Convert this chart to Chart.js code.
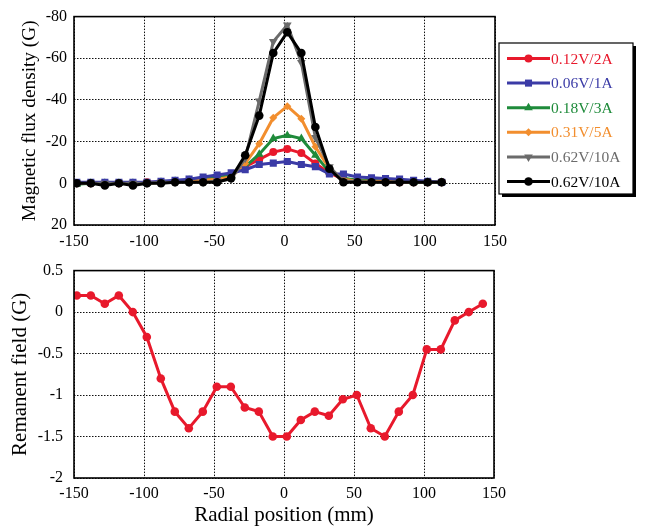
<!DOCTYPE html>
<html>
<head>
<meta charset="utf-8">
<script src="https://cdn.jsdelivr.net/npm/chart.js@4.4.0/dist/chart.umd.min.js"></script>
<style>
body { margin: 0; background: #fff; }
#wrap { position: relative; width: 645px; height: 529px; }
canvas { position: absolute; left: 0; }
</style>
</head>
<body>
<div id="wrap">
  <canvas id="fluxChart" width="645" height="250" style="top:0"></canvas>
  <canvas id="remChart" width="645" height="279" style="top:250px"></canvas>
</div>
<script>
// radial positions (mm)
const fluxX = [-148, -138, -128, -118, -108, -98, -88, -78, -68, -58, -48, -38, -28, -18, -8, 2, 12, 22, 32, 42, 52, 62, 72, 82, 92, 102, 112];
const remX = [-148, -138, -128, -118, -108, -98, -88, -78, -68, -58, -48, -38, -28, -18, -8, 2, 12, 22, 32, 42, 52, 62, 72, 82, 92, 102, 112, 122, 132, 142];

// magnetic flux density (G)
const flux012 = [0, 0, 0, 0, 0, -0.5, -0.5, -1, -1.5, -2, -2.5, -4, -8, -11.5, -15, -16.5, -14.5, -9.5, -5, -2, -1.5, -1, -1, -0.5, -0.5, -0.5, -0.5];
const flux006 = [-0.5, -0.5, -0.5, -0.5, -0.5, -0.5, -1, -1.5, -2, -3, -4, -5, -6.5, -9, -9.7, -10.5, -9, -8, -4.5, -4.5, -3, -2.7, -2.3, -2, -1.5, -1, -0.5];
const flux018 = [0.5, 0, 0, 0, 0, 0, -0.5, -1, -1.5, -2, -2.5, -4, -8, -14, -21.5, -23, -21.5, -13.5, -5.5, -2.5, -1.5, -1.5, -1, -1, -0.5, -0.5, -0.5];
const flux031 = [0, 0, 0, 0, 0, 0, -0.5, -1, -1, -1.5, -2, -3, -9.5, -19, -31.5, -37, -31, -17.5, -7, -2, -1, -1, -1, -0.5, -0.5, -0.5, -0.5];
const flux062a = [0, 0, 0, 0, 0, 0, -0.5, -0.5, -0.5, -0.5, -1, -2, -12, -39.5, -68, -76, -58, -22, -8, -1, -1, -0.5, -0.5, -0.5, -0.5, -0.5, -0.5];
const flux062b = [0, 0, 1, 0, 1, 0, 0, -0.5, -0.5, -0.5, -0.5, -2.5, -13.5, -32.5, -62.5, -72.5, -62.5, -27, -7, -0.5, -0.5, -0.5, -0.5, -0.5, -0.5, -0.5, -0.5];

// remanent field (G)
const remField = [0.2, 0.2, 0.1, 0.2, 0, -0.3, -0.8, -1.2, -1.4, -1.2, -0.9, -0.9, -1.15, -1.2, -1.5, -1.5, -1.3, -1.2, -1.25, -1.05, -1, -1.4, -1.5, -1.2, -1, -0.45, -0.45, -0.1, 0, 0.1];

const xTicks = [-150, -100, -50, 0, 50, 100, 150];
const fluxTicks = [-80, -60, -40, -20, 0, 20];
const remTicks = [0.5, 0, -0.5, -1, -1.5, -2];

const serif = 'Liberation Serif';

function toPoints(xs, ys) {
    return xs.map((x, i) => ({ x: x, y: ys[i] }));
}

function series(label, ys, color, style, radius, order, rotation) {
    return {
        label: label,
        data: toPoints(fluxX, ys),
        borderColor: color,
        backgroundColor: color,
        borderWidth: 3,
        pointStyle: style,
        pointRadius: radius,
        pointRotation: rotation || 0,
        pointBorderWidth: 0,
        order: order
    };
}

// box around the plot area
const framePlugin = {
    id: 'frame',
    afterDraw(chart) {
        const a = chart.chartArea;
        const ctx = chart.ctx;
        ctx.save();
        ctx.strokeStyle = '#000';
        ctx.lineWidth = 1.6;
        ctx.strokeRect(a.left, a.top, a.right - a.left, a.bottom - a.top);
        ctx.restore();
    }
};

// boxed legend with drop shadow on the right
const legendBoxPlugin = {
    id: 'legendBox',
    afterDraw(chart) {
        const ctx = chart.ctx;
        const bx = 499, by = 43, bw = 134, bh = 151;
        ctx.save();
        ctx.fillStyle = '#000';
        ctx.fillRect(bx + 3, by + 3, bw, bh);
        ctx.fillStyle = '#fff';
        ctx.fillRect(bx, by, bw, bh);
        ctx.strokeStyle = '#000';
        ctx.lineWidth = 1.2;
        ctx.strokeRect(bx, by, bw, bh);
        ctx.font = '15.5px "' + serif + '"';
        ctx.textBaseline = 'middle';
        chart.data.datasets.forEach((ds, i) => {
            const y = by + 15.5 + i * 24.6;
            ctx.strokeStyle = ds.borderColor;
            ctx.lineWidth = 3;
            ctx.beginPath();
            ctx.moveTo(507, y);
            ctx.lineTo(550, y);
            ctx.stroke();
            ctx.fillStyle = ds.backgroundColor;
            Chart.helpers.drawPoint(ctx, {
                pointStyle: ds.pointStyle,
                radius: ds.pointRadius,
                rotation: ds.pointRotation,
                borderWidth: 0
            }, 528.5, y);
            ctx.fillStyle = ds.borderColor;
            ctx.fillText(ds.label, 551, y + 1);
        });
        ctx.restore();
    }
};

function xScale(tickPad, height, titleOn) {
    return {
        type: 'linear',
        min: -150,
        max: 150,
        afterBuildTicks: (s) => { s.ticks = xTicks.map(v => ({ value: v })); },
        afterFit: (s) => { s.height = height; },
        grid: { color: '#111', lineWidth: 1, drawTicks: false },
        border: { display: false, dash: [1.5, 1.5] },
        ticks: { color: '#000', padding: tickPad, maxRotation: 0, font: { family: serif, size: 16 } },
        title: {
            display: titleOn,
            text: 'Radial position (mm)',
            color: '#000',
            font: { family: serif, size: 21 },
            padding: { top: 0, bottom: 1 }
        }
    };
}

new Chart(document.getElementById('fluxChart').getContext('2d'), {
    type: 'line',
    data: {
        datasets: [
            series('0.12V/2A', flux012, '#e8192c', 'circle', 4, 5),
            series('0.06V/1A', flux006, '#3b3ba6', 'rect', 5, 2),
            series('0.18V/3A', flux018, '#1f8b3b', 'triangle', 5, 4),
            series('0.31V/5A', flux031, '#f28e2e', 'rectRot', 4, 3),
            series('0.62V/10A', flux062a, '#6b6b6b', 'triangle', 5, 1, 180),
            series('0.62V/10A', flux062b, '#000000', 'circle', 4.3, 0)
        ]
    },
    options: {
        responsive: false,
        animation: false,
        devicePixelRatio: 1,
        layout: { padding: { top: 15, right: 150, left: 0, bottom: 0 } },
        plugins: { legend: { display: false }, tooltip: { enabled: false } },
        elements: { line: { tension: 0 } },
        scales: {
            x: xScale(7, 25, false),
            y: {
                type: 'linear',
                reverse: true,
                min: -80,
                max: 20,
                afterBuildTicks: (s) => { s.ticks = fluxTicks.map(v => ({ value: v })); },
                afterFit: (s) => { s.width = 74; },
                grid: { color: '#111', lineWidth: 1, drawTicks: false },
                border: { display: false, dash: [1.5, 1.5] },
                ticks: { color: '#000', padding: 7, font: { family: serif, size: 16 } },
                title: {
                    display: true,
                    text: 'Magnetic flux density (G)',
                    color: '#000',
                    font: { family: serif, size: 19.3 },
                    padding: { top: 18.5, bottom: 0 }
                }
            }
        }
    },
    plugins: [framePlugin, legendBoxPlugin]
});

new Chart(document.getElementById('remChart').getContext('2d'), {
    type: 'line',
    data: {
        datasets: [{
            label: 'Remanent field',
            data: toPoints(remX, remField),
            borderColor: '#e8192c',
            backgroundColor: '#e8192c',
            borderWidth: 3,
            pointRadius: 4.3,
            pointBorderWidth: 0
        }]
    },
    options: {
        responsive: false,
        animation: false,
        devicePixelRatio: 1,
        layout: { padding: { top: 18, right: 151, left: 0, bottom: 0 } },
        plugins: { legend: { display: false }, tooltip: { enabled: false } },
        elements: { line: { tension: 0 } },
        scales: {
            x: xScale(6, 51, true),
            y: {
                type: 'linear',
                min: -2,
                max: 0.5,
                afterBuildTicks: (s) => { s.ticks = remTicks.map(v => ({ value: v })); },
                afterFit: (s) => { s.width = 74; },
                grid: { color: '#111', lineWidth: 1, drawTicks: false },
                border: { display: false, dash: [1.5, 1.5] },
                ticks: {
                    color: '#000',
                    padding: 11,
                    font: { family: serif, size: 16 },
                    callback: (v) => String(v)
                },
                title: {
                    display: true,
                    text: 'Remanent field (G)',
                    color: '#000',
                    font: { family: serif, size: 21 },
                    padding: { top: 7.5, bottom: 0 }
                }
            }
        }
    },
    plugins: [framePlugin]
});
</script>
</body>
</html>
